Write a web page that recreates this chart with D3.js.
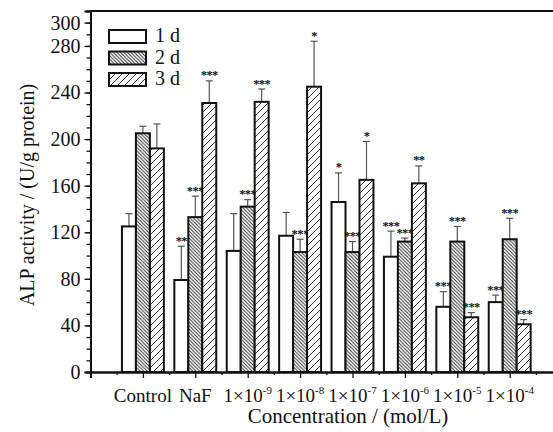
<!DOCTYPE html>
<html lang="en">
<head>
    <meta charset="UTF-8">
    <title>ALP activity</title>
    <script src="https://d3js.org/d3.v7.min.js"></script>
    <style>
        body {
            margin: 0;
            background: #fff;
        }

        svg text {
            font-family: "Liberation Serif", "Times New Roman", Tinos, serif !important;
            fill: #111;
        }

        .star {
            font-weight: bold;
            font-size: 12.5px;
            letter-spacing: -0.6px;
        }
    </style>
</head>
<body>
<div id="chart"></div>
<script>
    // categories + tick labels
    let groups = ["Control", "NaF", "1e-9", "1e-8", "1e-7", "1e-6", "1e-5", "1e-4"];
    let tickBase = ["Control", "NaF", "1\u00d710", "1\u00d710", "1\u00d710", "1\u00d710", "1\u00d710", "1\u00d710"];
    let tickExp = ["", "", "-9", "-8", "-7", "-6", "-5", "-4"];

    let series = ["1 d", "2 d", "3 d"];

    // means (U/g protein) and SD
    let day1 = [125, 79, 104, 117, 146, 99, 56, 60];
    let day1Sd = [11, 29, 32, 20, 25, 22, 13, 6];
    let day2 = [205, 133, 142, 103, 103, 112, 112, 114];
    let day2Sd = [6, 18, 6, 11, 9, 3, 13, 18];
    let day3 = [192, 231, 232, 245, 165, 162, 47, 41];
    let day3Sd = [21, 19, 11, 39, 33, 15, 4, 4];

    // significance marks
    let day1Sig = ["", "**", "", "", "*", "***", "***", "***"];
    let day2Sig = ["", "***", "***", "***", "***", "***", "***", "***"];
    let day3Sig = ["", "***", "***", "*", "*", "**", "***", "***"];

    let yLabelTicks = [0, 40, 80, 120, 160, 200, 240, 280, 300];

    let width = 553, height = 432;
    let margin = { left: 90.5, top: 11, bottom: 60 };
    let serif = "'Liberation Serif', 'Times New Roman', Tinos, serif";

    let svg = d3.select("#chart").append("svg")
        .attr("width", width)
        .attr("height", height)
        .style("font-family", serif);

    let defs = svg.append("defs");

    // dense "\\\" hatch for 2 d
    let p2 = defs.append("pattern")
        .attr("id", "hatch2")
        .attr("patternUnits", "userSpaceOnUse")
        .attr("width", 3.5).attr("height", 3.5);
    p2.append("rect").attr("width", 3.5).attr("height", 3.5).attr("fill", "#fff");
    p2.append("path")
        .attr("d", "M-1,-1L4.5,4.5M-1,2.5L1,4.5M2.5,-1L4.5,1")
        .attr("stroke", "#333").attr("stroke-width", 1);

    // wide "///" hatch for 3 d
    let p3 = defs.append("pattern")
        .attr("id", "hatch3")
        .attr("patternUnits", "userSpaceOnUse")
        .attr("width", 7).attr("height", 7);
    p3.append("rect").attr("width", 7).attr("height", 7).attr("fill", "#fff");
    p3.append("path")
        .attr("d", "M-1,8L8,-1M-2,2L2,-2M5,9L9,5")
        .attr("stroke", "#333").attr("stroke-width", 1);

    let fills = ["#fff", "url(#hatch2)", "url(#hatch3)"];

    let x = d3.scaleLinear()
        .domain([0, 9])
        .range([margin.left, margin.left + 52.4 * 9]);

    let y = d3.scaleLinear()
        .domain([0, 310])
        .range([372, margin.top]);

    let inner = d3.scaleBand()
        .domain(series)
        .range([-0.4, 0.4]);

    let rows = [];
    let means = [day1, day2, day3], sds = [day1Sd, day2Sd, day3Sd], sigs = [day1Sig, day2Sig, day3Sig];
    groups.forEach(function (g, i) {
        series.forEach(function (s, j) {
            rows.push({ g: i + 1, s: s, j: j, v: means[j][i], sd: sds[j][i], sig: sigs[j][i] });
        });
    });

    // axes
    let yAxis = svg.append("g")
        .attr("transform", "translate(" + margin.left + ",0)")
        .call(d3.axisLeft(y).tickValues(yLabelTicks).tickSize(6).tickPadding(4));
    svg.append("g")
        .attr("transform", "translate(" + margin.left + ",0)")
        .call(d3.axisLeft(y).tickValues(d3.range(10, 311, 10)).tickSize(4).tickFormat(""));

    svg.append("g")
        .attr("transform", "translate(0," + y(0) + ")")
        .call(d3.axisBottom(x).tickValues(d3.range(1, 9)).tickSize(6).tickFormat(""));
    svg.append("g")
        .attr("transform", "translate(0," + y(0) + ")")
        .call(d3.axisBottom(x).tickValues(d3.range(0.5, 9, 1)).tickSize(3).tickFormat(""));

    svg.selectAll("g").attr("font-family", null);
    svg.selectAll(".domain").attr("stroke-width", 2).attr("stroke", "#111");
    svg.selectAll(".tick line").attr("stroke-width", 1.3).attr("stroke", "#111");
    yAxis.selectAll(".tick text")
        .style("font-size", "20px")
        .style("font-family", serif);

    // top frame
    svg.append("line")
        .attr("x1", margin.left).attr("x2", width + 10)
        .attr("y1", y(310)).attr("y2", y(310))
        .attr("stroke", "#111").attr("stroke-width", 2);

    // x tick labels with exponent
    let xl = svg.append("g").selectAll("text")
        .data(groups)
        .enter().append("text")
        .attr("x", function (d, i) { return x(i + 1); })
        .attr("y", 402)
        .attr("text-anchor", "middle")
        .style("font-size", "19px");
    xl.append("tspan").text(function (d, i) { return tickBase[i]; });
    xl.append("tspan")
        .attr("dy", -8)
        .style("font-size", "11px")
        .text(function (d, i) { return tickExp[i]; });

    // bars
    let bars = svg.append("g").selectAll(".bar")
        .data(rows)
        .enter().append("g")
        .attr("class", "bar");

    bars.append("line")
        .attr("x1", function (d) { return x(d.g + inner(d.s) + inner.bandwidth() / 2); })
        .attr("x2", function (d) { return x(d.g + inner(d.s) + inner.bandwidth() / 2); })
        .attr("y1", function (d) { return y(d.v); })
        .attr("y2", function (d) { return y(d.v + d.sd); })
        .attr("stroke", "#555").attr("stroke-width", 1.2);
    bars.append("line")
        .attr("x1", function (d) { return x(d.g + inner(d.s) + inner.bandwidth() / 2) - 3.5; })
        .attr("x2", function (d) { return x(d.g + inner(d.s) + inner.bandwidth() / 2) + 3.5; })
        .attr("y1", function (d) { return y(d.v + d.sd); })
        .attr("y2", function (d) { return y(d.v + d.sd); })
        .attr("stroke", "#555").attr("stroke-width", 1.2);

    bars.append("rect")
        .attr("x", function (d) { return x(d.g + inner(d.s)); })
        .attr("width", x(inner.bandwidth()) - x(0))
        .attr("y", function (d) { return y(d.v); })
        .attr("height", function (d) { return y(0) - y(d.v); })
        .attr("fill", function (d) { return fills[d.j]; })
        .attr("stroke", "#111")
        .attr("stroke-width", 2);

    bars.append("text")
        .attr("class", "star")
        .attr("x", function (d) { return x(d.g + inner(d.s) + inner.bandwidth() / 2); })
        .attr("y", function (d) { return y(d.v + d.sd) - 1.5; })
        .attr("text-anchor", "middle")
        .text(function (d) { return d.sig; });

    // axis titles
    svg.append("text")
        .attr("x", 348)
        .attr("y", 423)
        .attr("text-anchor", "middle")
        .style("font-size", "21px")
        .text("Concentration / (mol/L)");

    svg.append("text")
        .attr("transform", "translate(34,195) rotate(-90)")
        .attr("text-anchor", "middle")
        .style("font-size", "20px")
        .text("ALP activity / (U/g protein)");

    // legend
    let leg = svg.append("g").selectAll("g")
        .data(series)
        .enter().append("g")
        .attr("transform", function (d, i) { return "translate(109," + (30 + i * 21.5) + ")"; });
    leg.append("rect")
        .attr("width", 37).attr("height", 13)
        .attr("fill", function (d, i) { return fills[i]; })
        .attr("stroke", "#111").attr("stroke-width", 2);
    leg.append("text")
        .attr("x", 46).attr("y", 12)
        .style("font-size", "20px")
        .text(function (d) { return d; });
</script>
</body>
</html>
